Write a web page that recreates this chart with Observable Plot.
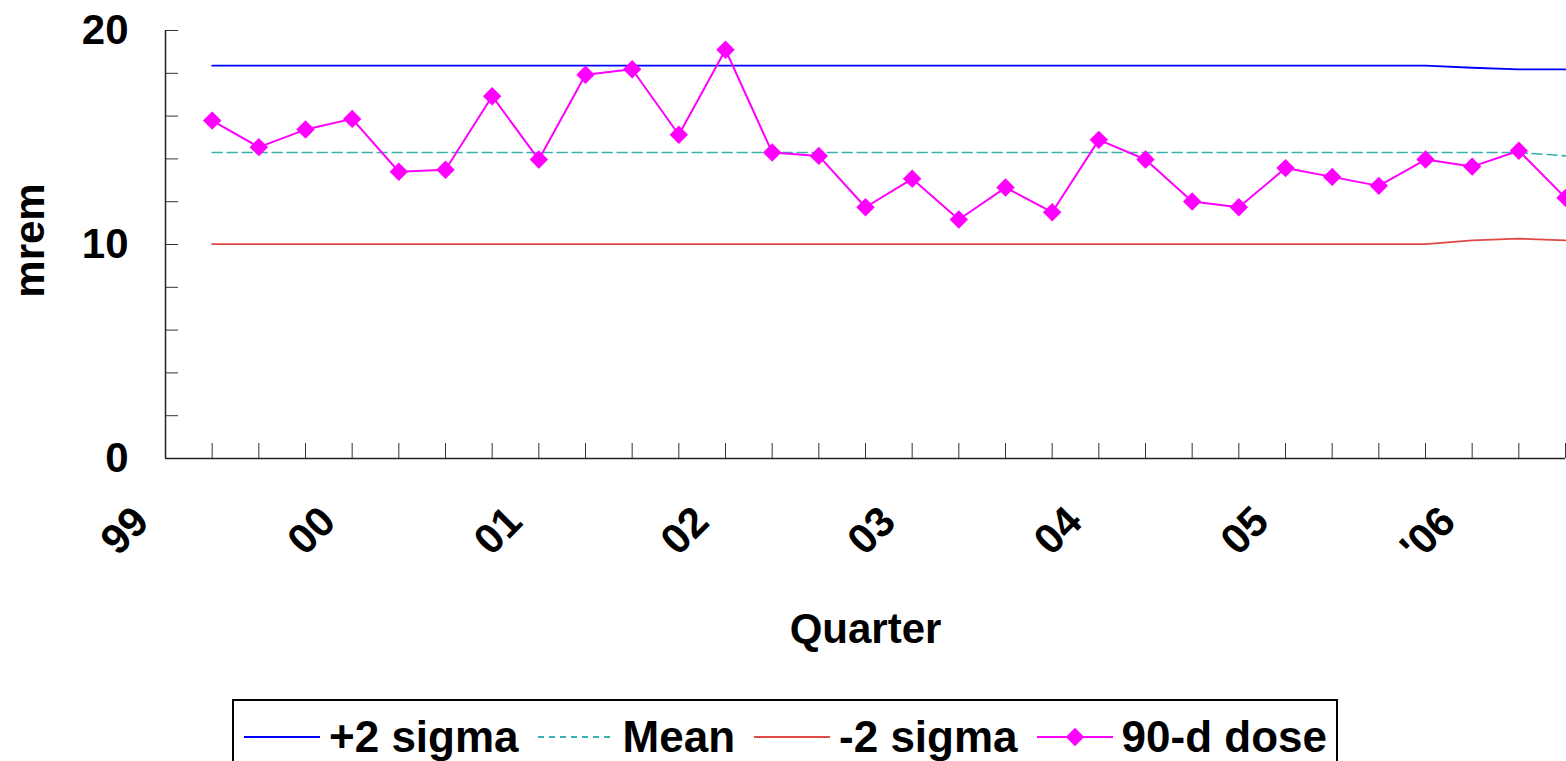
<!DOCTYPE html>
<html>
<head>
<meta charset="utf-8">
<script src="https://cdn.jsdelivr.net/npm/d3@7"></script>
<script src="https://cdn.jsdelivr.net/npm/@observablehq/plot@0.6"></script>
<style>
  html, body { margin: 0; padding: 0; background: #fff; }
  #wrap { position: relative; width: 1566px; height: 761px; overflow: hidden; font-family: "Liberation Sans", Arial, sans-serif; }
  #legend { position: absolute; left: 232px; top: 699px; width: 1106px; height: 62px; border: 2px solid #000; border-bottom: none; box-sizing: border-box; display: flex; flex-wrap: nowrap; align-items: flex-start; padding-top: 11px; padding-left: 10px; }
  .item { display: flex; flex-shrink: 0; align-items: center; margin-right: 19px; white-space: nowrap; height: 50px; }
  .item svg { margin-right: 9px; flex-shrink: 0; }
  .item span { font-size: 44px; font-weight: bold; color: #000; line-height: 50px; white-space: nowrap; }
</style>
</head>
<body>
<div id="wrap">
  <div id="chart"></div>
  <div id="legend"></div>
</div>
<script>
// Quarter index (0 = start of 1999, no data), series values
const quarters = [1,2,3,4,5,6,7,8,9,10,11,12,13,14,15,16,17,18,19,20,21,22,23,24,25,26,27,28,29,30];
const dose90 = [15.79,14.55,15.37,15.87,13.40,13.49,16.93,13.97,17.93,18.19,15.13,19.10,14.30,14.14,11.74,13.07,11.17,12.66,11.51,14.89,13.97,12.01,11.74,13.57,13.16,12.74,13.97,13.64,14.38,12.18];
const plus2sigma = [18.36,18.36,18.36,18.36,18.36,18.36,18.36,18.36,18.36,18.36,18.36,18.36,18.36,18.36,18.36,18.36,18.36,18.36,18.36,18.36,18.36,18.36,18.36,18.36,18.36,18.36,18.36,18.26,18.18,18.18];
const meanLine = [14.30,14.30,14.30,14.30,14.30,14.30,14.30,14.30,14.30,14.30,14.30,14.30,14.30,14.30,14.30,14.30,14.30,14.30,14.30,14.30,14.30,14.30,14.30,14.30,14.30,14.30,14.30,14.30,14.30,14.14];
const minus2sigma = [10.02,10.02,10.02,10.02,10.02,10.02,10.02,10.02,10.02,10.02,10.02,10.02,10.02,10.02,10.02,10.02,10.02,10.02,10.02,10.02,10.02,10.02,10.02,10.02,10.02,10.02,10.02,10.19,10.27,10.19];
const yearTickQuarters = [0,4,8,12,16,20,24,28];
const yearTickLabels = ["99","00","01","02","03","04","05","'06"];
const yTicks = [0,2,4,6,8,10,12,14,16,18,20];
const yLabelTicks = [0,10,20];

const seriesNames = ["+2 sigma","Mean","-2 sigma","90-d dose"];
const seriesColors = ["#0000ff","#3aafaf","#e04848","#ff00ff"];

const rows = (vals) => quarters.map((q, i) => ({q, v: vals[i]}));
const labelMap = new Map(yearTickQuarters.map((q, i) => [q, yearTickLabels[i]]));

const font = "Liberation Sans, Arial, sans-serif";

const chart = Plot.plot({
  width: 1566,
  height: 700,
  marginLeft: 165,
  marginRight: 1,
  marginTop: 30,
  marginBottom: 242,
  style: {fontFamily: font, background: "#fff", overflow: "visible"},
  x: {domain: [0, 30], axis: null},
  y: {domain: [0, 20], axis: null},
  marks: [
    // inward tick marks
    Plot.axisY({ticks: yTicks, tickSize: -13, tickFormat: () => "", stroke: "#333", label: null}),
    Plot.axisX({ticks: quarters, tickSize: -15, tickFormat: () => "", stroke: "#333", label: null}),
    // tick labels
    Plot.axisY({ticks: yLabelTicks, tickSize: 0, tickPadding: 37, fontSize: 42, fontWeight: "bold", fill: "#000", label: null}),
    Plot.axisX({ticks: yearTickQuarters, tickSize: 0, tickRotate: -45, tickPadding: 56, dx: -24, fontSize: 42, fontWeight: "bold", fill: "#000", tickFormat: d => labelMap.get(d), label: null}),
    // axis lines
    Plot.ruleX([0], {stroke: "#222", strokeWidth: 1.5}),
    Plot.ruleY([0], {stroke: "#222", strokeWidth: 1.5}),
    // axis titles
    Plot.text(["mrem"], {frameAnchor: "left", rotate: -90, dx: -135, dy: -4, fontSize: 42, fontWeight: "bold", fill: "#000", textAnchor: "middle", lineAnchor: "middle"}),
    Plot.text(["Quarter"], {frameAnchor: "bottom", dy: 171, fontSize: 42, fontWeight: "bold", fill: "#000", textAnchor: "middle", lineAnchor: "middle"}),
    // series
    Plot.line(rows(plus2sigma), {x: "q", y: "v", stroke: seriesColors[0], strokeWidth: 1.8}),
    Plot.line(rows(meanLine), {x: "q", y: "v", stroke: seriesColors[1], strokeWidth: 1.6, strokeDasharray: "10,5"}),
    Plot.line(rows(minus2sigma), {x: "q", y: "v", stroke: seriesColors[2], strokeWidth: 1.8}),
    Plot.line(rows(dose90), {x: "q", y: "v", stroke: seriesColors[3], strokeWidth: 2}),
    Plot.dot(rows(dose90), {x: "q", y: "v", symbol: "diamond2", r: 8.3, fill: seriesColors[3], stroke: "none"})
  ]
});
document.getElementById("chart").appendChild(chart);

// legend
const legend = d3.select("#legend");
seriesNames.forEach((name, i) => {
  const item = legend.append("div").attr("class", "item");
  const svg = item.append("svg").attr("width", 76).attr("height", 36);
  svg.append("line").attr("x1", 0).attr("x2", 76).attr("y1", 18).attr("y2", 18)
    .attr("stroke", seriesColors[i]).attr("stroke-width", 2)
    .attr("stroke-dasharray", i === 1 ? "6,5" : null);
  if (i === 3) {
    svg.append("path").attr("d", d3.symbol(d3.symbolDiamond2, 214)()).attr("transform", "translate(38,18)").attr("fill", seriesColors[i]);
  }
  item.append("span").text(name);
});
</script>
</body>
</html>
